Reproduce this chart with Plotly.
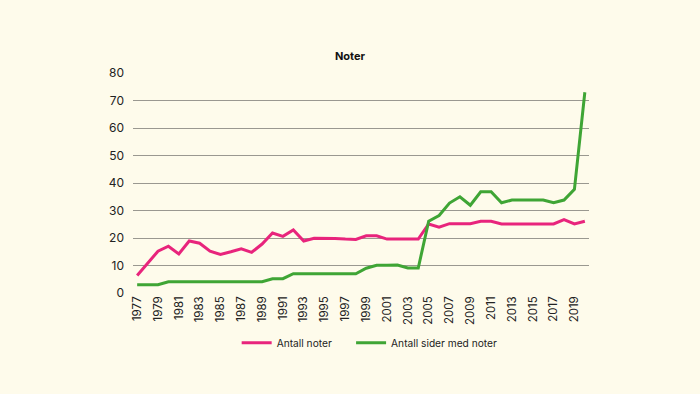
import plotly.graph_objects as go

years = list(range(1977, 2021))
antall_noter = [6.4, 11.0, 15.2, 17.0, 14.2, 18.9, 18.1, 15.2, 14.0, 15.0,
                16.1, 14.8, 17.8, 21.8, 20.6, 22.9, 18.9, 19.9, 19.9, 19.8,
                19.6, 19.5, 20.8, 20.8, 19.6, 19.6, 19.6, 19.6, 25.1, 23.9,
                25.2, 25.2, 25.2, 26.1, 26.1, 25.1, 25.1, 25.1, 25.1, 25.1,
                25.1, 26.7, 25.1, 26.1]
antall_sider = [3.0, 3.0, 3.0, 4.1, 4.1, 4.1, 4.1, 4.1, 4.1, 4.1,
                4.1, 4.1, 4.1, 5.2, 5.2, 7.0, 7.0, 7.0, 7.0, 7.0,
                7.0, 7.0, 9.0, 10.1, 10.1, 10.2, 9.1, 9.1, 26.1, 28.2,
                32.7, 35.0, 31.9, 36.8, 36.8, 32.8, 33.8, 33.8, 33.8, 33.8,
                32.8, 33.8, 37.7, 73.0]
tick_years = list(range(1977, 2020, 2))
y_ticks = [0, 10, 20, 30, 40, 50, 60, 70, 80]

PINK = "#e8247c"
GREEN = "#3fa535"
BG = "#fefbeb"
FONT = "Inter, Roboto, Arial, sans-serif"

fig = go.Figure()
fig.add_trace(go.Scatter(x=years, y=antall_noter, mode="lines",
                         name="Antall noter\u00a0\u00a0\u00a0\u00a0\u00a0",
                         line=dict(color=PINK, width=3)))
fig.add_trace(go.Scatter(x=years, y=antall_sider, mode="lines", name="Antall sider med noter",
                         line=dict(color=GREEN, width=3)))

fig.update_layout(
    width=700, height=394,
    paper_bgcolor=BG, plot_bgcolor=BG,
    margin=dict(l=133, r=111, t=73, b=101),
    font=dict(family=FONT, size=11, color="#222222"),
    title=dict(text="<b>Noter</b>", x=0.5, xanchor="center", y=0.857, yanchor="middle",
               font=dict(size=11, color="#111111")),
    showlegend=True,
    legend=dict(orientation="h", x=0.519, xanchor="center", y=-0.16, yanchor="top",
                font=dict(size=10.2, color="#222222"), bgcolor="rgba(0,0,0,0)",
                itemwidth=30, traceorder="normal"),
    xaxis=dict(range=[1976.6, 2020.4], tickmode="array", tickvals=tick_years,
               ticktext=[str(y) for y in tick_years], tickangle=-90,
               showgrid=False, zeroline=False, showline=False, ticks="",
               tickfont=dict(size=11.5, color="#222222")),
    yaxis=dict(range=[0, 80], tickmode="array", tickvals=y_ticks,
               showgrid=True, gridcolor="#9a9890", gridwidth=1, zeroline=False,
               showline=False, ticks="", ticklabelstandoff=8,
               tickfont=dict(size=12, color="#222222")),
)

fig.write_html("out.html", config={"displayModeBar": False},
               post_script="document.body.style.margin='0';document.body.style.background='" + BG + "';")
